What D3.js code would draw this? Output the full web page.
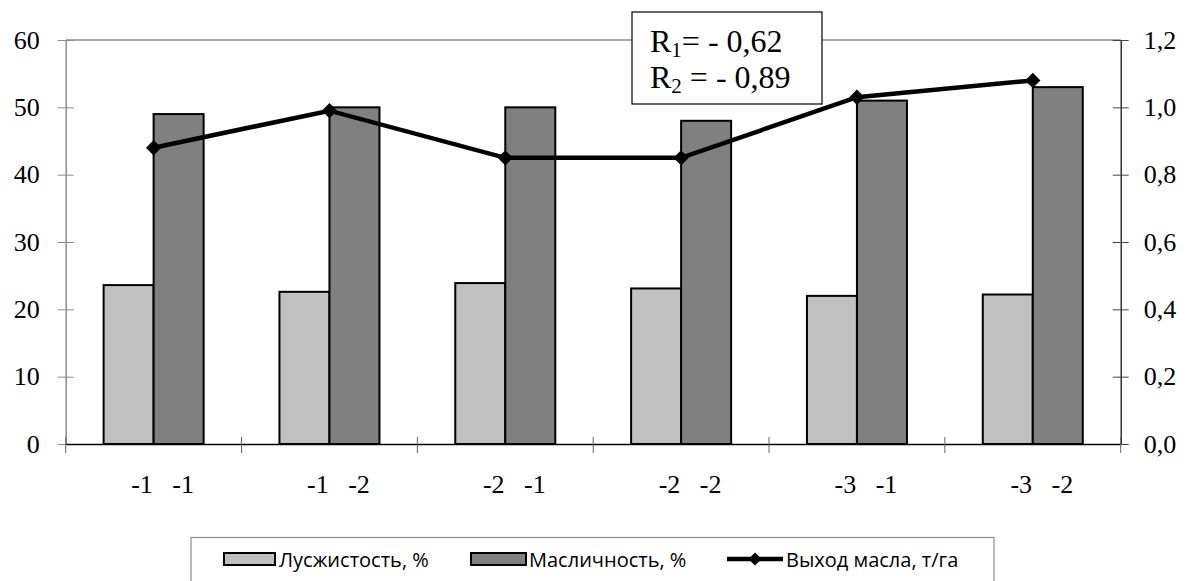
<!DOCTYPE html>
<html>
<head>
<meta charset="utf-8">
<title>Лусжистость, масличность и выход масла</title>
<style>
  body { margin: 0; background: #fff; }
  svg { display: block; }
</style>
</head>
<body>
<script src="https://d3js.org/d3.v7.min.js"></script>
<script>
// categories (x labels) and series values
const categories = ["-1   -1", "-1   -2", "-2   -1", "-2   -2", "-3   -1", "-3   -2"];
const huskiness = [23.6, 22.6, 23.9, 23.1, 22.0, 22.2];   // Лусжистость, %
const oiliness = [49, 50, 50, 48, 51, 53];                // Масличность, %
const oilYield = [0.88, 0.99, 0.85, 0.85, 1.03, 1.08];    // Выход масла, т/га
const leftTicks = [0, 10, 20, 30, 40, 50, 60];
const rightTicks = [0, 0.2, 0.4, 0.6, 0.8, 1.0, 1.2];
const seriesNames = ["Лусжистость, %", "Масличность, %", "Выход масла, т/га"];
const notes = [["R", "1", "= - 0,62"], ["R", "2", " = - 0,89"]];

const width = 1188, height = 581;
const plotL = 65.7, plotR = 1120.7, plotT = 40, plotB = 444;
const serif = "'Liberation Serif', 'Times New Roman', serif";

const svg = d3.select("body").append("svg")
  .attr("width", width).attr("height", height);

const x = d3.scaleBand().domain(categories).range([plotL, plotR]);
const yL = d3.scaleLinear().domain([0, 60]).range([plotB, plotT]);
const yR = d3.scaleLinear().domain([0, 1.2]).range([plotB, plotT]);
const barW = 50;

function styleAxis(g) {
  g.attr("font-family", serif).attr("font-size", 26);
  g.selectAll("text")
    .style("font-family", serif).style("font-size", "26px")
    .attr("fill", "#000");
}

// top border of plot area
svg.append("line")
  .attr("x1", plotL).attr("x2", plotR).attr("y1", plotT).attr("y2", plotT)
  .attr("stroke", "#8c8c8c").attr("stroke-width", 1.5);

// left axis
const gL = svg.append("g").attr("transform", `translate(${plotL},0)`)
  .call(d3.axisLeft(yL).tickValues(leftTicks).tickSize(0).tickPadding(26))
  .call(styleAxis);
gL.select(".domain").attr("stroke", "#8c8c8c").attr("stroke-width", 1.5);
gL.selectAll(".tick").append("line").attr("x1", -8).attr("x2", 8).attr("stroke", "#8c8c8c");

// right axis
const gR = svg.append("g").attr("transform", `translate(${plotR},0)`)
  .call(d3.axisRight(yR).tickValues(rightTicks).tickSize(0).tickPadding(23)
    .tickFormat(d => d3.format(".1f")(d).replace(".", ",")))
  .call(styleAxis);
gR.select(".domain").attr("stroke", "#000").attr("stroke-width", 1.2);
gR.selectAll(".tick").append("line").attr("x1", -8).attr("x2", 8).attr("stroke", "#444");

// bars
const bars = svg.append("g");
bars.selectAll("rect.l").data(categories).join("rect").attr("class", "l")
  .attr("x", d => x(d) + x.bandwidth() / 2 - barW)
  .attr("y", (d, i) => yL(huskiness[i]))
  .attr("width", barW).attr("height", (d, i) => plotB - yL(huskiness[i]))
  .attr("fill", "#c0c0c0").attr("stroke", "#000").attr("stroke-width", 2);
bars.selectAll("rect.d").data(categories).join("rect").attr("class", "d")
  .attr("x", d => x(d) + x.bandwidth() / 2)
  .attr("y", (d, i) => yL(oiliness[i]))
  .attr("width", barW).attr("height", (d, i) => plotB - yL(oiliness[i]))
  .attr("fill", "#808080").attr("stroke", "#000").attr("stroke-width", 2);

// bottom axis
const gB = svg.append("g").attr("transform", `translate(0,${plotB})`)
  .call(d3.axisBottom(x).tickSize(0).tickPadding(31))
  .call(styleAxis);
gB.select(".domain").attr("stroke", "#000").attr("stroke-width", 1.5);
gB.selectAll("text").attr("dx", 9).style("white-space", "pre");
const bounds = d3.range(categories.length + 1).map(i => plotL + i * x.step());
svg.append("g").selectAll("line").data(bounds).join("line")
  .attr("x1", d => d).attr("x2", d => d).attr("y1", plotB - 7).attr("y2", plotB + 9)
  .attr("stroke", "#666");

// line series
const pts = categories.map((c, i) => [x(c) + x.bandwidth() / 2, yR(oilYield[i])]);
svg.append("path").attr("d", d3.line()(pts))
  .attr("fill", "none").attr("stroke", "#000").attr("stroke-width", 4.5);
svg.append("g").selectAll("path").data(pts).join("path")
  .attr("transform", d => `translate(${d[0]},${d[1]})`)
  .attr("d", d3.symbol(d3.symbolDiamond2, 150)).attr("fill", "#000");

// annotation box
svg.append("rect").attr("x", 632).attr("y", 12).attr("width", 190).attr("height", 92)
  .attr("fill", "#fff").attr("stroke", "#000").attr("stroke-width", 1.2);
notes.forEach((n, i) => {
  const t = svg.append("text").attr("font-family", serif).attr("font-size", 32)
    .attr("x", 650).attr("y", 52 + i * 36).style("white-space", "pre");
  t.append("tspan").text(n[0]);
  t.append("tspan").attr("font-size", 21).attr("dy", 5).text(n[1]);
  t.append("tspan").attr("dy", -5).text(n[2]);
});

// legend
svg.append("rect").attr("x", 191).attr("y", 537.5).attr("width", 803).attr("height", 60)
  .attr("fill", "#fff").attr("stroke", "#8c8c8c").attr("stroke-width", 1.2);
const lg = svg.append("g").attr("font-family", "'Open Sans', 'Noto Sans', sans-serif")
  .attr("font-size", 20);
lg.append("rect").attr("x", 224).attr("y", 553).attr("width", 51).attr("height", 12)
  .attr("fill", "#c0c0c0").attr("stroke", "#000").attr("stroke-width", 2);
lg.append("text").attr("x", 279).attr("y", 567).text(seriesNames[0]);
lg.append("rect").attr("x", 471).attr("y", 553).attr("width", 55).attr("height", 12)
  .attr("fill", "#808080").attr("stroke", "#000").attr("stroke-width", 2);
lg.append("text").attr("x", 529).attr("y", 567).text(seriesNames[1]);
lg.append("line").attr("x1", 727).attr("x2", 783).attr("y1", 559).attr("y2", 559)
  .attr("stroke", "#000").attr("stroke-width", 4.5);
lg.append("path").attr("transform", "translate(755,559)")
  .attr("d", d3.symbol(d3.symbolDiamond2, 110)).attr("fill", "#000");
lg.append("text").attr("x", 786).attr("y", 567).text(seriesNames[2]);
</script>
</body>
</html>
